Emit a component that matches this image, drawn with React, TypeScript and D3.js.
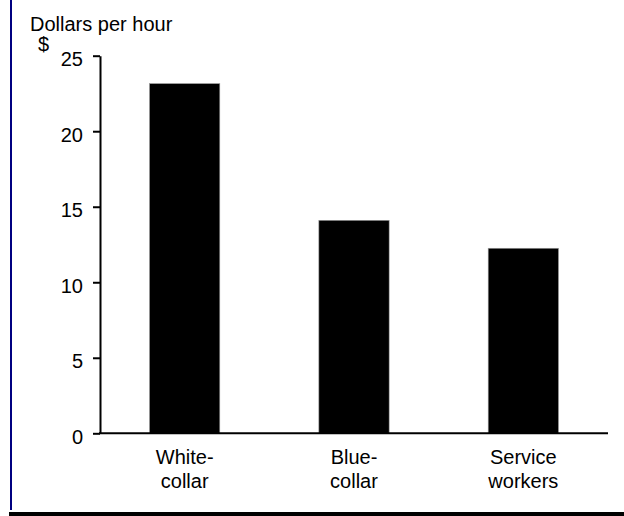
import React, { useRef, useEffect } from "react"
import * as d3 from "d3"

const categories = ["White-collar", "Blue-collar", "Service workers"]
const categoryLines = [["White-", "collar"], ["Blue-", "collar"], ["Service", "workers"]]
const wages = [23.15, 14.1, 12.25]
const yTicks = [0, 5, 10, 15, 20, 25]

const W = 624
const H = 516
const FONT = "'Liberation Sans', Arial, sans-serif"

const App: React.FunctionComponent = () => {
	const svgRef = useRef<any>()

	useEffect(() => {
		const svg = d3.select(svgRef.current)
		svg.selectAll("*").remove()

		const xScale = d3
			.scaleBand<string>()
			.domain(categories)
			.range([100, 608])
			.paddingInner(0.585)
			.paddingOuter(0.2925)

		const yScale = d3.scaleLinear().domain([0, 25]).range([433.3, 55.7])

		// frame lines
		svg.append("rect")
			.attr("x", 10).attr("y", 0).attr("width", 2).attr("height", 510)
			.attr("fill", "#000080")
		svg.append("rect")
			.attr("x", 9).attr("y", 512).attr("width", W - 9).attr("height", 4)
			.attr("fill", "#000")

		svg.append("text")
			.attr("x", 30).attr("y", 31)
			.attr("font-size", 20)
			.text("Dollars per hour")
		svg.append("text")
			.attr("x", 38).attr("y", 51)
			.attr("font-size", 20)
			.text("$")

		const yAxis = d3
			.axisLeft(yScale)
			.tickValues(yTicks)
			.tickSize(7)
			.tickSizeOuter(0)
			.tickPadding(10)
			.tickFormat((d) => d.toString())

		const gy = svg.append("g").attr("transform", "translate(100,0)").call(yAxis)
		gy.selectAll("text").attr("font-size", 20).attr("font-family", FONT).attr("dy", "0.5em")
		gy.selectAll("line").attr("stroke-width", 2)
		gy.select(".domain").attr("stroke-width", 2)

		svg.selectAll(".bar")
			.data(wages)
			.join("rect")
			.attr("class", "bar")
			.attr("x", (d, i) => xScale(categories[i]) as number)
			.attr("y", (d) => yScale(d))
			.attr("width", xScale.bandwidth())
			.attr("height", (d) => yScale(0) - yScale(d))
			.attr("fill", "#000")
			.attr("stroke", "#999")
			.attr("stroke-width", 0.6)

		svg.append("line")
			.attr("x1", 99).attr("x2", 608)
			.attr("y1", yScale(0)).attr("y2", yScale(0))
			.attr("stroke", "#000").attr("stroke-width", 2)

		const labels = svg.selectAll(".xlabel")
			.data(categoryLines)
			.join("text")
			.attr("class", "xlabel")
			.attr("text-anchor", "middle")
			.attr("font-size", 20)
			.attr("x", (d, i) => (xScale(categories[i]) as number) + xScale.bandwidth() / 2)
			.attr("y", 464)
		labels.selectAll("tspan")
			.data((d) => d)
			.join("tspan")
			.attr("x", function () { return (this as any).parentNode.getAttribute("x") })
			.attr("dy", (d, i) => (i === 0 ? 0 : 24))
			.text((d) => d)
	}, [])

	return (
		<svg
			ref={svgRef}
			width={W}
			height={H}
			style={{ position: "absolute", left: 0, top: 0, background: "#fff", fontFamily: FONT }}
		></svg>
	)
}

export default App
